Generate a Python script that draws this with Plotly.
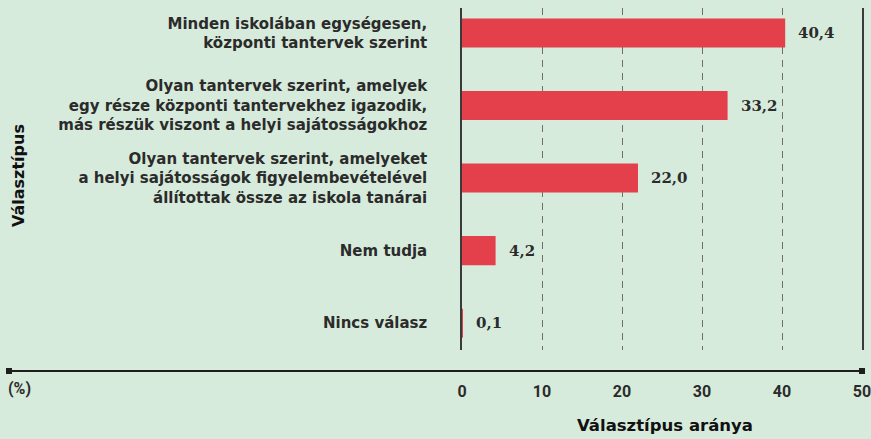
import plotly.graph_objects as go

categories = [
    "Minden iskolában egységesen,<br>központi tantervek szerint",
    "Olyan tantervek szerint, amelyek<br>egy része központi tantervekhez igazodik,<br>más részük viszont a helyi sajátosságokhoz",
    "Olyan tantervek szerint, amelyeket<br>a helyi sajátosságok figyelembevételével<br>állítottak össze az iskola tanárai",
    "Nem tudja",
    "Nincs válasz",
]
values = [40.4, 33.2, 22.0, 4.2, 0.1]
value_labels = ["40,4", "33,2", "22,0", "4,2", "0,1"]
tick_vals = [0, 10, 20, 30, 40, 50]

BG = "#d7ebdc"
BAR = "#e4404c"
DARK = "#2b2b2b"
LABEL_FONT = "DejaVu Sans, Open Sans, sans-serif"
NUM_FONT = "Liberation Sans Narrow, Roboto, sans-serif"

fig = go.Figure()
fig.add_trace(go.Bar(
    x=values,
    y=categories,
    orientation="h",
    width=0.4,
    marker=dict(color=BAR, line=dict(width=0)),
    hoverinfo="skip",
))

# value labels placed at the bar ends
for v, lab, c in zip(values, value_labels, categories):
    fig.add_annotation(x=v, y=c, xref="x", yref="y", text=lab,
                       xanchor="left", yanchor="middle", xshift=11,
                       showarrow=False,
                       font=dict(family="DejaVu Serif, serif", size=15,
                                 color=DARK, weight="bold"))

fig.update_layout(
    width=871, height=439,
    margin=dict(l=462, r=9, t=8, b=89, autoexpand=False),
    paper_bgcolor=BG, plot_bgcolor=BG,
    separators=", ",
    showlegend=False,
    xaxis=dict(
        range=[0, 50],
        tickvals=tick_vals,
        ticktext=[str(v) for v in tick_vals],
        showgrid=True,
        gridcolor="#6e6e6e",
        gridwidth=1,
        griddash="7px,6px",
        zeroline=False,
        showline=False,
        ticks="",
        automargin=False,
        ticklabelstandoff=30,
        ticklabeloverflow="allow",
        tickfont=dict(family=NUM_FONT, size=16, color=DARK, weight="bold"),
    ),
    yaxis=dict(
        type="category",
        categoryorder="array",
        categoryarray=categories,
        range=[4.37, -0.345],
        showgrid=False,
        zeroline=False,
        showline=True,
        mirror=True,
        linecolor="#3a3a3a",
        linewidth=1.5,
        ticks="",
        automargin=False,
        ticklabelstandoff=30,
        tickfont=dict(family=LABEL_FONT, size=15, color=DARK, weight="bold"),
    ),
)

def px_x(p):
    return (p - 462) / 400.0

def px_y(p):
    return (350 - p) / 342.0

fig.add_shape(type="line", xref="paper", yref="paper",
              x0=px_x(9), x1=px_x(862), y0=px_y(371), y1=px_y(371),
              line=dict(color="#1e1e1e", width=2))
for cx in (9, 862):
    fig.add_shape(type="rect", xref="paper", yref="paper",
                  x0=px_x(cx - 3), x1=px_x(cx + 3), y0=px_y(374), y1=px_y(368),
                  fillcolor="#1e1e1e", line=dict(width=0))

fig.add_annotation(text="(%)", xref="paper", yref="paper",
                   x=px_x(6), y=px_y(388), xanchor="left", yanchor="middle",
                   showarrow=False, font=dict(family=NUM_FONT, size=16, color=DARK, weight="bold"))
fig.add_annotation(text="<b>Választípus aránya</b>", xref="paper", yref="paper",
                   x=px_x(665), y=px_y(425), xanchor="center", yanchor="middle",
                   showarrow=False, font=dict(family=LABEL_FONT, size=16.5, color="#111"))
fig.add_annotation(text="<b>Választípus</b>", xref="paper", yref="paper",
                   x=px_x(18), y=px_y(175), xanchor="center", yanchor="middle",
                   textangle=-90, showarrow=False,
                   font=dict(family=LABEL_FONT, size=16, color="#111"))

fig.write_html("out.html",
               config={"displayModeBar": False},
               post_script="document.body.style.margin='0';document.body.style.padding='0';")
